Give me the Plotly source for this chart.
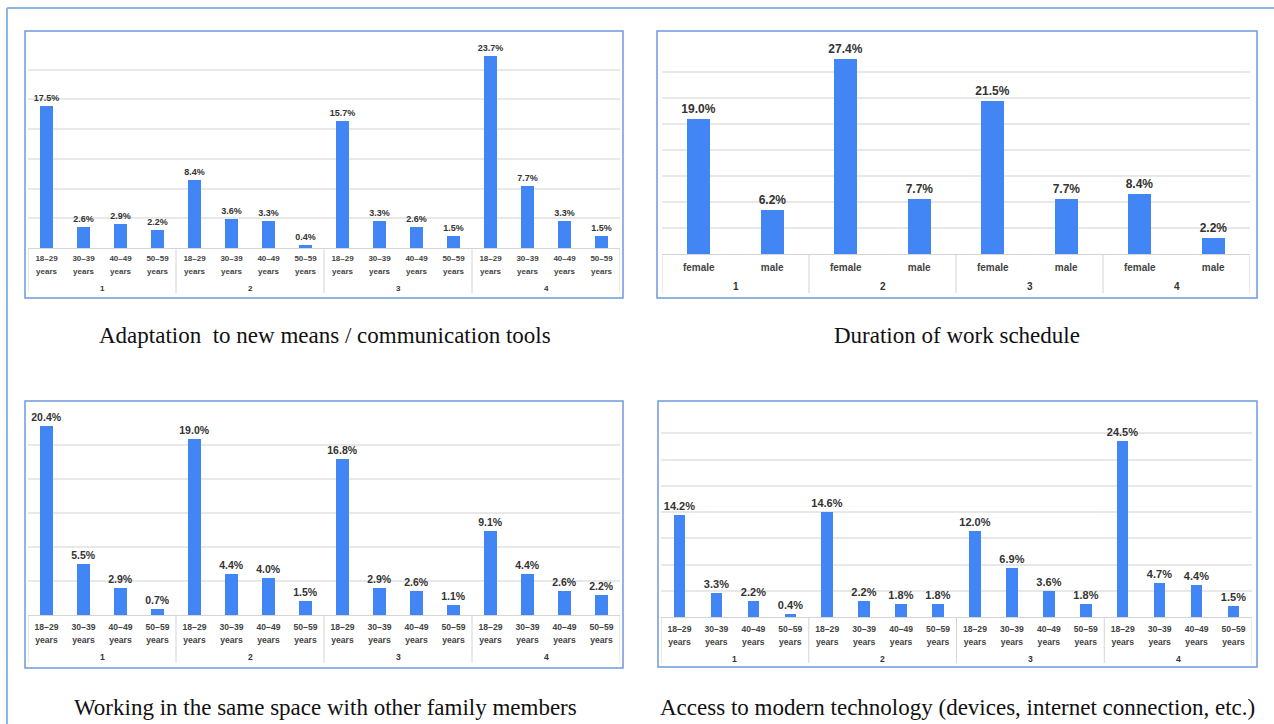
import plotly.graph_objects as go

W, H = 1274, 724

# ---- data -------------------------------------------------------------
groups = ["1", "2", "3", "4"]
age_bands = ["18–29", "30–39", "40–49", "50–59"]
age_unit = "years"
genders = ["female", "male"]

adaptation = [17.5, 2.6, 2.9, 2.2,
              8.4, 3.6, 3.3, 0.4,
              15.7, 3.3, 2.6, 1.5,
              23.7, 7.7, 3.3, 1.5]

duration = [19.0, 6.2,
            27.4, 7.7,
            21.5, 7.7,
            8.4, 2.2]

same_space = [20.4, 5.5, 2.9, 0.7,
              19.0, 4.4, 4.0, 1.5,
              16.8, 2.9, 2.6, 1.1,
              9.1, 4.4, 2.6, 2.2]

technology = [14.2, 3.3, 2.2, 0.4,
              14.6, 2.2, 1.8, 1.8,
              12.0, 6.9, 3.6, 1.8,
              24.5, 4.7, 4.4, 1.5]

captions = ["Adaptation  to new means / communication tools",
            "Duration of work schedule",
            "Working in the same space with other family members",
            "Access to modern technology (devices, internet connection, etc.)"]

# ---- styling ----------------------------------------------------------
BAR = "#4285F4"
GRID = "#e8e8e8"
BOX = "#d4d4d4"
FRAME = "#6f98dc"
OUTER = "#8fb4e3"
SANS = "Liberation Sans, Arial, sans-serif"
SERIF = "Liberation Serif, Times New Roman, serif"
STEP = 3.66


def px(x):
    return x / W


def py(y):
    return 1 - y / H


def two_line(top, bottom, size):
    # smaller glyphs inside a taller line box
    s = f"<span style='font-size:{size}px'>"
    return f"{s}{top}</span><br>{s}{bottom}</span>"


# one entry per chart: values, sub labels, plot box (px), grid count,
# frame (px), label sizes, label rows (px), caption (px)
panels = [
    dict(values=adaptation, subs=[two_line(a, age_unit, 8) for a in age_bands],
         box=(28, 620, 40, 248), n=7, frame=(25, 623, 31, 298),
         val_size=9, tick_size=9.4, group_size=8, standoff=1, group_y=288,
         box_bottom=293, cap=(325, 336), width=0.33),
    dict(values=duration, subs=genders,
         box=(662, 1250, 46, 254), n=8, frame=(657, 1257, 31, 298),
         val_size=12, tick_size=10, group_size=10, standoff=4, group_y=286.5,
         box_bottom=293, cap=(957, 336), width=0.31),
    dict(values=same_space, subs=[two_line(a, age_unit, 8.6) for a in age_bands],
         box=(28, 620, 411, 615), n=6, frame=(25, 623, 401, 668),
         val_size=10.5, tick_size=9.4, group_size=8.6, standoff=3, group_y=657,
         box_bottom=663, cap=(325, 707), width=0.33),
    dict(values=technology, subs=[two_line(a, age_unit, 8.6) for a in age_bands],
         box=(661, 1252, 407, 617), n=8, frame=(658, 1257, 401, 667),
         val_size=11, tick_size=10, group_size=8.6, standoff=2, group_y=659,
         box_bottom=663, cap=(957, 707), width=0.31),
]

fig = go.Figure()
shapes = []
annotations = []

for i, p in enumerate(panels):
    k = "" if i == 0 else str(i + 1)
    nsub = len(p["subs"])
    ncat = nsub * len(groups)
    pos = list(range(ncat))
    ticktext = [p["subs"][j % nsub] for j in pos]
    x0, x1, ytop, ybot = p["box"]

    fig.add_trace(go.Bar(
        x=pos, y=p["values"], xaxis="x" + k, yaxis="y" + k,
        marker=dict(color=BAR, line=dict(width=0)), width=p["width"],
        texttemplate="%{y:.1f}%", textposition="outside",
        textfont=dict(family=SANS, size=p["val_size"], color="#333333", weight="bold"),
        constraintext="none", cliponaxis=False, showlegend=False,
    ))

    fig.layout["xaxis" + k] = dict(
        domain=[px(x0), px(x1)], anchor="y" + k, range=[-0.5, ncat - 0.5],
        tickmode="array", tickvals=pos, ticktext=ticktext, ticks="",
        ticklabelstandoff=p["standoff"],
        tickfont=dict(family=SANS, size=p["tick_size"], color="#444444", weight="bold"),
        showgrid=False, zeroline=False, showline=True, linecolor=BOX, linewidth=1,
        fixedrange=True,
    )
    fig.layout["yaxis" + k] = dict(
        domain=[py(ybot), py(ytop)], anchor="x" + k,
        range=[0, p["n"] * STEP + 0.01], tick0=0, dtick=STEP,
        showticklabels=False, ticks="", gridcolor=GRID, gridwidth=1.5,
        zeroline=False, showline=False, fixedrange=True,
    )

    # label box: outer edges and group dividers
    for g in range(len(groups) + 1):
        xv = g * nsub - 0.5
        shapes.append(dict(type="line", xref="x" + k, yref="paper",
                           x0=xv, x1=xv, y0=py(ybot), y1=py(p["box_bottom"]),
                           line=dict(color=BOX, width=1)))
    # group labels
    for g, name in enumerate(groups):
        annotations.append(dict(
            xref="x" + k, yref="paper", x=g * nsub + (nsub - 1) / 2,
            y=py(p["group_y"]), text=name, showarrow=False,
            font=dict(family=SANS, size=p["group_size"], color="#333333", weight="bold"),
            xanchor="center", yanchor="middle"))

    # chart frame
    fx0, fx1, fy0, fy1 = p["frame"]
    shapes.append(dict(type="rect", xref="paper", yref="paper",
                       x0=px(fx0), x1=px(fx1), y0=py(fy1), y1=py(fy0),
                       line=dict(color=FRAME, width=1.5), layer="below"))

    # caption
    cx, cy = p["cap"]
    annotations.append(dict(
        xref="paper", yref="paper", x=px(cx), y=py(cy), text=captions[i],
        showarrow=False, xanchor="center", yanchor="middle",
        font=dict(family=SERIF, size=23, color="#111111")))

# page border on the left and top
shapes.append(dict(type="line", xref="paper", yref="paper",
                   x0=px(7), x1=px(7), y0=py(8), y1=0,
                   line=dict(color=OUTER, width=2)))
shapes.append(dict(type="line", xref="paper", yref="paper",
                   x0=px(7), x1=1, y0=py(8), y1=py(8),
                   line=dict(color=OUTER, width=2)))

fig.update_layout(
    width=W, height=H, margin=dict(l=0, r=0, t=0, b=0),
    paper_bgcolor="white", plot_bgcolor="white",
    shapes=shapes, annotations=annotations, bargap=0,
)

fig.write_html("out.html", config={"displayModeBar": False})
